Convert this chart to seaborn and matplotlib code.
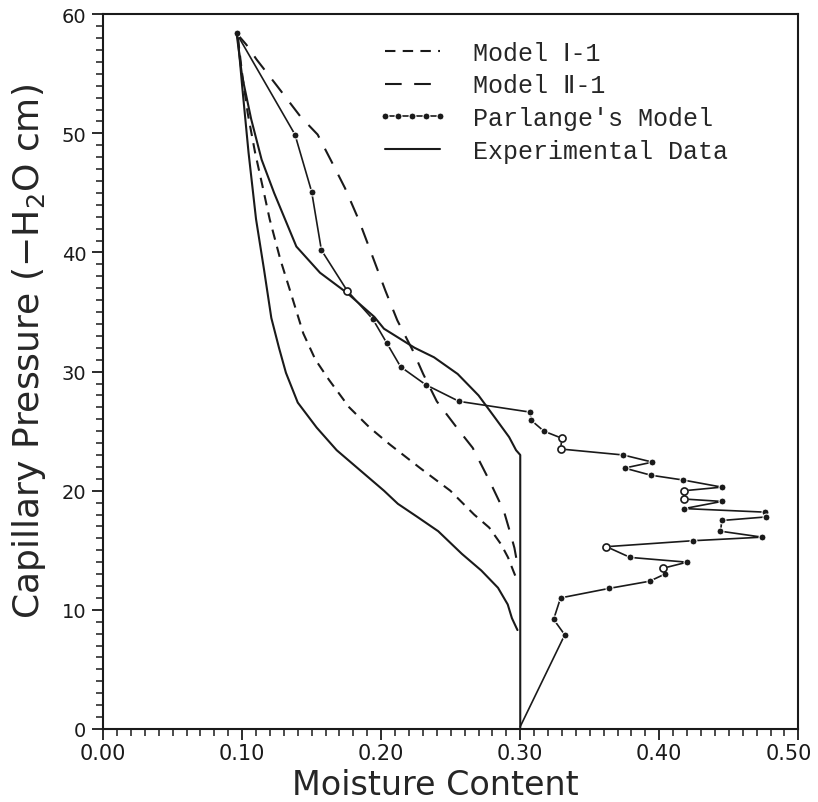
import numpy as np
import matplotlib
matplotlib.use('Agg')
import matplotlib.pyplot as plt
import matplotlib.transforms as mtrans
from matplotlib.ticker import MultipleLocator, FuncFormatter
from matplotlib.font_manager import FontProperties
import seaborn as sns

# Experimental data: drying branch (bottom -> top) and wetting branch (top -> bottom)
exp_up_x = [0.300, 0.300, 0.297, 0.292, 0.282, 0.270, 0.255, 0.238, 0.224, 0.202,
            0.195, 0.1755, 0.156, 0.139, 0.123, 0.114, 0.1065, 0.100, 0.096]
exp_up_y = [0.0, 23.0, 23.4, 24.5, 26.1, 28.0, 29.8, 31.2, 32.0, 33.6,
            34.6, 36.6, 38.3, 40.5, 45.0, 47.8, 51.2, 54.8, 58.4]

exp_low_x = [0.096, 0.097, 0.100, 0.1046, 0.110, 0.1157, 0.121, 0.1265, 0.1315, 0.140,
             0.1536, 0.168, 0.185, 0.202, 0.212, 0.226, 0.241, 0.258, 0.272, 0.284,
             0.291, 0.294, 0.298]
exp_low_y = [58.4, 57.9, 54.0, 48.4, 42.8, 38.6, 34.5, 32.0, 29.9, 27.4,
             25.3, 23.4, 21.7, 20.0, 18.9, 17.8, 16.6, 14.7, 13.3, 11.85,
             10.45, 9.3, 8.3]

# Model I-1
m1_x = [0.097, 0.0999, 0.104, 0.1093, 0.1146, 0.1198, 0.1275, 0.135, 0.144, 0.1527,
        0.1625, 0.177, 0.1917, 0.206, 0.228, 0.2497, 0.2668, 0.2777, 0.2862, 0.2912,
        0.2949, 0.298]
m1_y = [58.0, 55.1, 51.7, 48.4, 45.6, 42.8, 39.4, 36.6, 33.2, 31.0,
        29.3, 27.0, 25.3, 23.9, 21.9, 20.0, 18.0, 16.9, 15.5, 14.4,
        13.3, 12.4]

# Model II-1
m2_x = [0.096, 0.103, 0.1104, 0.125, 0.142, 0.1543, 0.164, 0.174, 0.184, 0.194,
        0.203, 0.2116, 0.2228, 0.2302, 0.240, 0.255, 0.2658, 0.278, 0.2882, 0.2932,
        0.2958, 0.298]
m2_y = [58.4, 57.45, 56.2, 54.0, 51.4, 49.9, 47.7, 45.4, 42.7, 39.6,
        36.8, 34.3, 31.75, 29.8, 27.5, 25.2, 23.6, 20.8, 18.3, 16.3,
        15.2, 13.8]

# Parlange's model
p_x = [0.096, 0.138, 0.150, 0.157, 0.1755, 0.194, 0.204, 0.214, 0.232, 0.256,
       0.307, 0.308, 0.317, 0.330, 0.329, 0.374, 0.395, 0.375, 0.394, 0.417,
       0.445, 0.418, 0.418, 0.445, 0.418, 0.476, 0.477, 0.445, 0.444, 0.474,
       0.424, 0.362, 0.379, 0.420, 0.403, 0.404, 0.393, 0.364, 0.329, 0.324,
       0.332, 0.300]
p_y = [58.4, 49.9, 45.1, 40.2, 36.8, 34.4, 32.4, 30.4, 28.9, 27.5,
       26.6, 25.9, 25.0, 24.4, 23.5, 23.0, 22.4, 21.9, 21.3, 20.9,
       20.3, 20.0, 19.3, 19.1, 18.5, 18.2, 17.8, 17.5, 16.6, 16.1,
       15.8, 15.3, 14.4, 14.0, 13.5, 13.0, 12.4, 11.8, 11.0, 9.2,
       7.9, 0.2]
p_open = [4, 13, 14, 21, 22, 31, 34]  # points drawn as open circles

labels = ['Model \u2160-1', 'Model \u2161-1', "Parlange's Model", 'Experimental Data']

sns.set_theme(style='ticks')
plt.rcParams['font.family'] = ['DejaVu Sans']

fig = plt.figure(figsize=(8.18, 8.03), dpi=100)
ax = fig.add_axes([0.126, 0.091, 0.850, 0.890])

lw = 1.5
sns.lineplot(x=m1_x, y=m1_y, sort=False, estimator=None, ax=ax, color='k',
             lw=lw, linestyle=(0, (5, 3.5)), label=labels[0])
sns.lineplot(x=m2_x, y=m2_y, sort=False, estimator=None, ax=ax, color='k',
             lw=lw, linestyle=(0, (8, 6)), label=labels[1])
sns.lineplot(x=p_x, y=p_y, sort=False, estimator=None, ax=ax, color='k',
             lw=1.2, marker='o', markersize=5, markevery=list(range(len(p_x) - 1)),
             label=labels[2])
sns.scatterplot(x=[p_x[i] for i in p_open], y=[p_y[i] for i in p_open], ax=ax,
                s=26, facecolor='white', edgecolor='k', linewidth=1.2, zorder=5)
sns.lineplot(x=exp_up_x, y=exp_up_y, sort=False, estimator=None, ax=ax, color='k',
             lw=lw, label=labels[3])
sns.lineplot(x=exp_low_x, y=exp_low_y, sort=False, estimator=None, ax=ax, color='k',
             lw=lw)

ax.set_xlim(0, 0.5)
ax.set_ylim(0, 60)
ax.xaxis.set_major_locator(MultipleLocator(0.1))
ax.xaxis.set_minor_locator(MultipleLocator(0.01))
# the 0.50 label is drawn by hand below so it can sit a bit left of its tick
ax.xaxis.set_major_formatter(FuncFormatter(lambda v, p: '' if v > 0.45 else f'{v:.2f}'))
ax.yaxis.set_major_locator(MultipleLocator(10))
ax.yaxis.set_minor_locator(MultipleLocator(1))
ax.tick_params(which='major', direction='out', length=8, width=1.3, colors='k')
ax.tick_params(which='minor', direction='out', length=5, width=1.1, colors='k')
ax.tick_params(axis='x', labelsize=15, pad=2)
ax.tick_params(axis='y', labelsize=14, pad=4)
for sp in ax.spines.values():
    sp.set_visible(True)
    sp.set_linewidth(1.5)
    sp.set_color('k')

shift = mtrans.ScaledTranslation(-0.10, -0.139, fig.dpi_scale_trans)
ax.text(0.5, 0, '0.50', fontsize=15, ha='center', va='top', color='k',
        transform=ax.get_xaxis_transform() + shift, clip_on=False)

ax.set_xlabel('Moisture Content', fontsize=24, labelpad=4)
ax.set_ylabel(r'Capillary Pressure ($-$H$_2$O cm)', fontsize=26, labelpad=10)
ax.xaxis.label.set_x(0.478)
ax.yaxis.label.set_y(0.53)

handles, labs = ax.get_legend_handles_labels()
leg_font = FontProperties(family=['Liberation Mono', 'DejaVu Sans Mono', 'DejaVu Sans'], size=18)
ax.legend(handles, labs, loc='upper left', bbox_to_anchor=(0.387, 0.970), frameon=False,
          prop=leg_font, handlelength=2.8, handletextpad=1.05, labelspacing=0.35,
          borderaxespad=0, borderpad=0.2, numpoints=5)

fig.savefig('out.png', dpi=100)
